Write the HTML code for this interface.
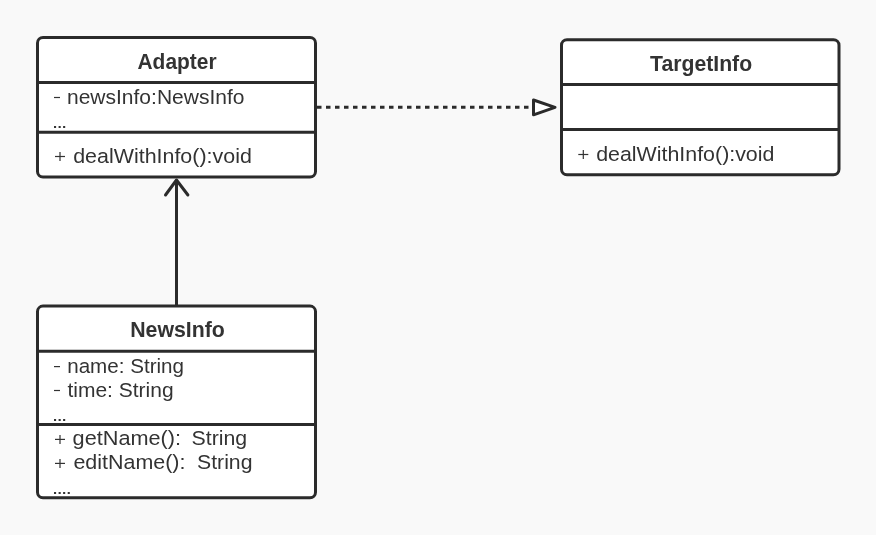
<!DOCTYPE html>
<html><head><meta charset="utf-8">
<style>
html,body{margin:0;padding:0;background:#f9f9f9;width:876px;height:535px;overflow:hidden}
svg{display:block;will-change:transform}
text{font-family:"Liberation Sans",sans-serif;fill:#333}
.t{font-weight:bold;font-size:21.5px}
.r{font-size:20.5px}
</style></head><body>
<svg width="876" height="535" viewBox="0 0 876 535">
<rect width="876" height="535" fill="#f9f9f9"/>
<g fill="#fff" stroke="#2b2b2b" stroke-width="3">
  <rect x="37.5" y="37.5" width="278" height="139.5" rx="5.5"/>
  <rect x="561.5" y="39.7" width="277.5" height="135" rx="5.5"/>
  <rect x="37.5" y="306.1" width="278" height="191.7" rx="5.5"/>
</g>
<g stroke="#2b2b2b" stroke-width="3" fill="none">
  <line x1="37.5" y1="82.6" x2="315.5" y2="82.6"/>
  <line x1="37.5" y1="132.2" x2="315.5" y2="132.2"/>
  <line x1="561.5" y1="84.4" x2="839" y2="84.4"/>
  <line x1="561.5" y1="129.4" x2="839" y2="129.4"/>
  <line x1="37.5" y1="351.2" x2="315.5" y2="351.2"/>
  <line x1="37.5" y1="424.6" x2="315.5" y2="424.6"/>
  <line x1="176.5" y1="305" x2="176.5" y2="180"/>
  <polyline points="165.5,195 176.5,180 187.9,195" stroke-linecap="round" stroke-linejoin="round"/>
  <line x1="317" y1="107.3" x2="532" y2="107.3" stroke-dasharray="4.5 4.5"/>
  <polygon points="533.5,100 533.5,114.8 555,107.3" fill="#fff" stroke-linejoin="round"/>
</g>
<text id="t1" class="t" x="137.50" y="69.00" textLength="79.03" lengthAdjust="spacingAndGlyphs">Adapter</text>
<text id="a1" class="r" x="67.00" y="103.80" textLength="177.42" lengthAdjust="spacingAndGlyphs">newsInfo:NewsInfo</text>
<text id="m1" class="r" x="73.20" y="162.70" textLength="178.63" lengthAdjust="spacingAndGlyphs">dealWithInfo():void</text>
<text id="t2" class="t" x="650.10" y="70.70" textLength="102.01" lengthAdjust="spacingAndGlyphs">TargetInfo</text>
<text id="m2" class="r" x="596.20" y="160.70" textLength="178.23" lengthAdjust="spacingAndGlyphs">dealWithInfo():void</text>
<text id="t3" class="t" x="130.20" y="336.90" textLength="94.67" lengthAdjust="spacingAndGlyphs">NewsInfo</text>
<text id="a2" class="r" x="67.20" y="372.60" textLength="116.83" lengthAdjust="spacingAndGlyphs">name: String</text>
<text id="a3" class="r" x="67.40" y="396.70" textLength="106.21" lengthAdjust="spacingAndGlyphs">time: String</text>
<text id="m3" class="r" x="72.60" y="444.60" textLength="108.47" lengthAdjust="spacingAndGlyphs">getName():</text>
<text id="s3" class="r" x="191.50" y="444.60" textLength="55.67" lengthAdjust="spacingAndGlyphs">String</text>
<text id="m4" class="r" x="73.40" y="468.70" textLength="112.05" lengthAdjust="spacingAndGlyphs">editName():</text>
<text id="s4" class="r" x="197.00" y="468.70" textLength="55.50" lengthAdjust="spacingAndGlyphs">String</text>
<g fill="#333">
  <rect x="54" y="96.9" width="6" height="1.2"/>
  <rect x="54" y="366" width="6" height="1.2"/>
  <rect x="54" y="389.9" width="6" height="1.2"/>
  <rect x="55" y="155.9" width="10" height="1.2"/><rect x="59.4" y="152" width="1.2" height="9"/>
  <rect x="578.3" y="153.9" width="10" height="1.2"/><rect x="582.7" y="150" width="1.2" height="9"/>
  <rect x="55" y="438.8" width="10" height="1.2"/><rect x="59.4" y="435" width="1.2" height="9"/>
  <rect x="55" y="462.8" width="10" height="1.2"/><rect x="59.4" y="459" width="1.2" height="9"/>
  <rect x="54" y="126" width="2.1" height="2"/><rect x="58.6" y="126" width="2.1" height="2"/><rect x="63.1" y="126" width="2.1" height="2"/>
  <rect x="54" y="419" width="2.1" height="2"/><rect x="58.6" y="419" width="2.1" height="2"/><rect x="63.1" y="419" width="2.1" height="2"/>
  <rect x="54" y="492" width="2.1" height="2"/><rect x="58.6" y="492" width="2.1" height="2"/><rect x="63.1" y="492" width="2.1" height="2"/><rect x="67.7" y="492" width="2.1" height="2"/>
</g>
</svg>
</body></html>
